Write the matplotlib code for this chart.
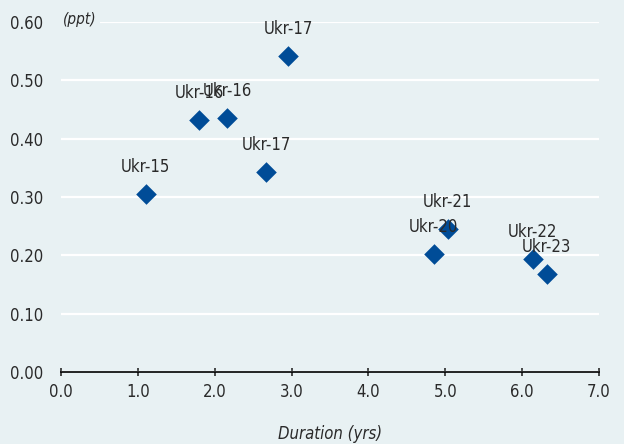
import matplotlib
matplotlib.use("Agg")
import matplotlib.pyplot as plt

labels = ["Ukr-15", "Ukr-16", "Ukr-16", "Ukr-17", "Ukr-17", "Ukr-20", "Ukr-21", "Ukr-22", "Ukr-23"]
duration = [1.10, 1.80, 2.16, 2.96, 2.67, 4.85, 5.03, 6.14, 6.32]
impact = [0.305, 0.432, 0.435, 0.542, 0.343, 0.202, 0.245, 0.194, 0.168]
yticks = [0.0, 0.1, 0.2, 0.3, 0.4, 0.5, 0.6]
xticks = [0, 1, 2, 3, 4, 5, 6, 7]

bg = "#E8F1F3"
txt = "#2a2a2a"
plt.rcParams['font.family'] = ['DejaVu Sans']
plt.rcParams['font.stretch'] = 'condensed'

fig = plt.figure(figsize=(6.24, 4.44), dpi=100, facecolor=bg)
ax = fig.add_axes([61/624, (444-372)/444, (599-61)/624, (372-22)/444], facecolor=bg)

ax.set_xlim(0, 7)
ax.set_ylim(0, 0.6)
ax.set_yticks(yticks)
ax.set_yticklabels([f"{v:.2f}" for v in yticks])
ax.set_xticks(xticks)
ax.set_xticklabels([f"{v:.1f}" for v in xticks])
ax.grid(axis='y', color='white', linewidth=1.6, zorder=0)
ax.set_axisbelow(True)
for s in ['top', 'right', 'left']:
    ax.spines[s].set_visible(False)
ax.spines['bottom'].set_color('black')
ax.spines['bottom'].set_linewidth(1.2)
ax.spines['bottom'].set_zorder(3)
ax.tick_params(axis='y', length=0, pad=13, labelsize=12, colors=txt)
ax.tick_params(axis='x', direction='inout', length=6, width=1.2, pad=5, labelsize=12, colors=txt)

ax.scatter(duration, impact, marker='D', s=110, color='#004C97', zorder=4, linewidths=0)
for x, y, lab in zip(duration, impact, labels):
    ax.annotate(lab, (x, y), xytext=(0, 27), textcoords='offset pixels',
                ha='center', va='center', fontsize=12, color=txt, zorder=5)

ax.text(0.02, 0.605, "(ppt)", fontsize=11, style='italic', color=txt, ha='left', va='center',
        zorder=3, bbox=dict(facecolor=bg, edgecolor='none', pad=3))
fig.text((61+599)/2/624, 1-434/444, "Duration (yrs)", fontsize=12, style='italic', color=txt,
         ha='center', va='center')

fig.savefig("out.png", dpi=100, facecolor=bg)
